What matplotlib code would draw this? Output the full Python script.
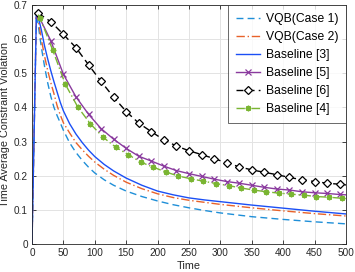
import matplotlib
matplotlib.use("Agg")
import matplotlib.pyplot as plt
from matplotlib.ticker import FixedLocator, FuncFormatter

plt.rcParams['font.family'] = ['Liberation Sans', 'DejaVu Sans']

# ---- data ----
t_line = [0, 7, 10, 15, 20, 25, 30, 35, 40, 45, 50, 60, 70, 80, 90, 100, 115,
          130, 150, 175, 200, 225, 250, 275, 300, 350, 400, 450, 500]
vqb1 = [0, 0.675, 0.640, 0.575, 0.520, 0.472, 0.432, 0.400, 0.376, 0.355, 0.333,
        0.296, 0.268, 0.245, 0.225, 0.208, 0.188, 0.172, 0.155, 0.139, 0.126,
        0.115, 0.106, 0.098, 0.091, 0.080, 0.072, 0.065, 0.059]
vqb2 = [0, 0.675, 0.655, 0.598, 0.550, 0.508, 0.472, 0.440, 0.405, 0.378, 0.355,
        0.325, 0.297, 0.276, 0.257, 0.240, 0.219, 0.201, 0.181, 0.162, 0.147,
        0.136, 0.128, 0.122, 0.116, 0.106, 0.097, 0.089, 0.082]
base3 = [0, 0.675, 0.665, 0.626, 0.580, 0.542, 0.507, 0.475, 0.445, 0.415, 0.390,
         0.352, 0.322, 0.297, 0.275, 0.256, 0.233, 0.214, 0.193, 0.172, 0.155,
         0.144, 0.135, 0.129, 0.124, 0.114, 0.105, 0.096, 0.088]

t_mark = [10, 30, 50, 70, 90, 110, 130, 150, 170, 190, 210, 230, 250, 270, 290,
          310, 330, 350, 370, 390, 410, 430, 450, 470, 490, 500]
base5 = [0.670, 0.595, 0.497, 0.431, 0.380, 0.338, 0.307, 0.280, 0.257, 0.243,
         0.228, 0.215, 0.206, 0.198, 0.190, 0.183, 0.178, 0.172, 0.166, 0.161,
         0.158, 0.153, 0.150, 0.148, 0.145, 0.144]
base6 = [0.676, 0.651, 0.614, 0.575, 0.525, 0.476, 0.430, 0.388, 0.354, 0.329,
         0.305, 0.287, 0.273, 0.262, 0.250, 0.238, 0.226, 0.217, 0.210, 0.203,
         0.195, 0.188, 0.183, 0.178, 0.175, 0.173]

t_green = [10, 13, 33, 53, 73, 93, 113, 133, 153, 173, 193, 213, 233, 253, 273,
           293, 313, 333, 353, 373, 393, 413, 433, 453, 473, 493, 500]
base4 = [0.672, 0.661, 0.568, 0.468, 0.401, 0.352, 0.313, 0.284, 0.262, 0.240,
         0.225, 0.211, 0.199, 0.191, 0.184, 0.177, 0.171, 0.164, 0.158, 0.153,
         0.149, 0.146, 0.143, 0.139, 0.137, 0.134, 0.133]

labels = ['VQB(Case 1)', 'VQB(Case 2)', 'Baseline [3]', 'Baseline [5]',
          'Baseline [6]', 'Baseline [4]']
xticks = [0, 50, 100, 150, 200, 250, 300, 350, 400, 450, 500]
yticks = [0, 0.1, 0.2, 0.3, 0.4, 0.5, 0.6, 0.7]

# ---- figure ----
fig = plt.figure(figsize=(3.55, 2.72), dpi=100)
ax = fig.add_axes([32/355, 28/272, 314/355, 239/272])

lw = 1.0
ax.plot(t_line, vqb1, linestyle=(0, (5, 3)), color='#1f8fd8', lw=lw, label=labels[0])
ax.plot(t_line, vqb2, linestyle=(0, (6, 2, 1, 2)), color='#e8622a', lw=lw, label=labels[1])
ax.plot(t_line, base3, linestyle='-', color='#1b4ff5', lw=lw, label=labels[2])
n5 = len(t_mark)
ax.plot(t_mark, base5, linestyle='-', color='#8a3a9e', lw=lw, marker='x',
        markersize=3.8, markeredgewidth=0.9, markevery=list(range(0, n5 - 1)),
        label=labels[3])
ax.plot(t_mark, base6, linestyle=(0, (5, 3)), color='black', lw=lw, marker='D',
        markersize=3.6, markerfacecolor='white', markeredgewidth=0.9,
        markevery=list(range(0, n5 - 1)), label=labels[4])
ng = len(t_green)
ax.plot(t_green, base4, linestyle=(0, (6, 2, 1, 2)), color='#7ab532', lw=lw,
        marker=(8, 2, 0), markersize=4.0, markeredgewidth=1.0,
        markevery=list(range(1, ng - 1)), label=labels[5])

ax.set_xlim(0, 500)
ax.set_ylim(0, 0.7)
ax.xaxis.set_major_locator(FixedLocator(xticks))
ax.yaxis.set_major_locator(FixedLocator(yticks))
ax.yaxis.set_major_formatter(FuncFormatter(lambda v, p: '0' if v == 0 else f'{v:.1f}'))
ax.grid(True, color='#e3e3e3', lw=0.7)
ax.set_axisbelow(True)
ax.tick_params(direction='in', length=3, width=0.6, labelsize=7.2,
               colors='#262626', top=True, right=True, pad=3)
for s in ax.spines.values():
    s.set_color('#262626')
    s.set_linewidth(0.6)

ax.set_xlabel('Time', fontsize=7.8, color='#262626', labelpad=2)
ax.set_ylabel('Time Average Constraint Violation', fontsize=7.8, color='#262626',
              labelpad=3)

leg = ax.legend(loc='upper right', fontsize=8.7, frameon=True, fancybox=False,
                edgecolor='#262626', borderaxespad=0, handlelength=2.0,
                handletextpad=0.45, labelspacing=0.5, borderpad=0.65)
leg.get_frame().set_linewidth(0.6)

fig.savefig('out.png', dpi=100)
